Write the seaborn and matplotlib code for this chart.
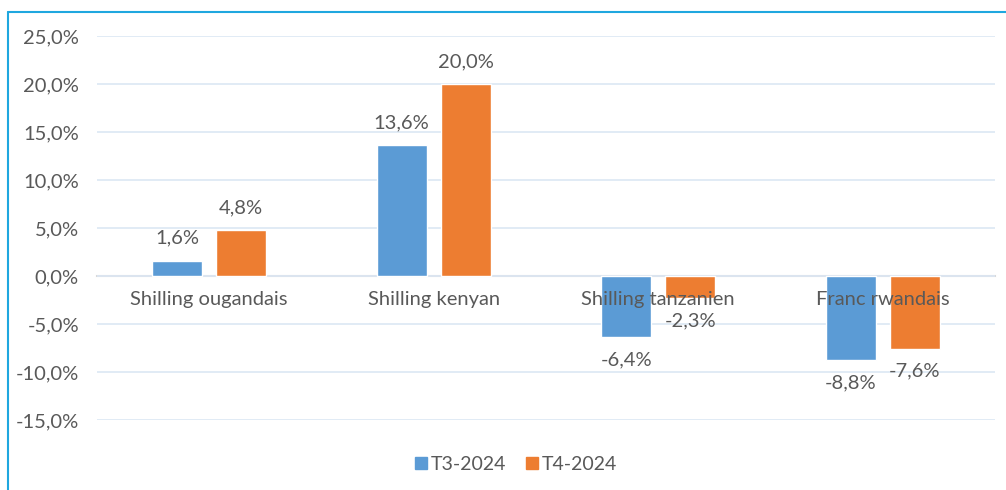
import matplotlib
matplotlib.use("Agg")
import matplotlib.pyplot as plt
from matplotlib.lines import Line2D
from matplotlib.ticker import FuncFormatter
import seaborn as sns
import pandas as pd

categories = ["Shilling ougandais", "Shilling kenyan", "Shilling tanzanien", "Franc rwandais"]
series_names = ["T3-2024", "T4-2024"]
t3_values = [1.6, 13.6, -6.4, -8.8]
t4_values = [4.8, 20.0, -2.3, -7.6]
y_ticks = [-15, -10, -5, 0, 5, 10, 15, 20, 25]

df = pd.DataFrame({
    "cat": categories * 2,
    "serie": [series_names[0]] * 4 + [series_names[1]] * 4,
    "val": t3_values + t4_values,
})

sns.set_theme(style="white")
plt.rcParams["font.family"] = ["Lato", "DejaVu Sans"]
text_col = "#595959"
fs = 14.5

fig = plt.figure(figsize=(10.06, 4.9), dpi=100)
ax = fig.add_axes([0.0964, 0.1429, 0.8926, 0.7836])

sns.barplot(data=df, x="cat", y="val", hue="serie", order=categories,
            hue_order=series_names, palette=["#5B9BD5", "#ED7D31"],
            width=0.57, gap=0.22, ax=ax, saturation=1, legend=True)

ax.set_ylim(-15, 25)
ax.set_xlim(-0.5, 3.5)
ax.set_yticks(y_ticks)
ax.yaxis.set_major_formatter(FuncFormatter(lambda v, p: f"{v:.1f}%".replace(".", ",")))
ax.grid(axis="y", color="#DCE7F4", linewidth=1.2)
ax.set_axisbelow(True)
ax.xaxis.set_zorder(5)
for s in ["top", "right", "left"]:
    ax.spines[s].set_visible(False)
ax.spines["bottom"].set_position(("data", 0))
ax.spines["bottom"].set_color("#D9D9D9")
ax.spines["bottom"].set_linewidth(1.5)
ax.spines["bottom"].set_zorder(0.5)
ax.tick_params(axis="y", length=0, pad=13, labelsize=fs, labelcolor=text_col)
ax.tick_params(axis="x", length=0, pad=11, labelsize=fs, labelcolor=text_col)
ax.set_xlabel("")
ax.set_ylabel("")

for cont, vals in zip(ax.containers, [t3_values, t4_values]):
    labels = [f"{v:.1f}%".replace(".", ",") for v in vals]
    ax.bar_label(cont, labels=labels, padding=10, fontsize=fs, color=text_col)

ax.get_legend().remove()
handles = [plt.Rectangle((0, 0), 1, 1, color=c) for c in ["#5B9BD5", "#ED7D31"]]
fig.legend(handles, series_names, loc="center", bbox_to_anchor=(0.513, 0.052),
           ncol=2, frameon=False, fontsize=14, handlelength=0.6, handleheight=0.6,
           handletextpad=0.2, columnspacing=1.0, labelcolor=text_col)

border = "#1FA7DF"
fig.add_artist(Line2D([0.0075, 1.0], [0.9755, 0.9755], transform=fig.transFigure,
                      color=border, linewidth=1.5))
fig.add_artist(Line2D([0.0075, 0.0075], [0.0, 0.9755], transform=fig.transFigure,
                      color=border, linewidth=1.5))

fig.savefig("out.png", dpi=100)
